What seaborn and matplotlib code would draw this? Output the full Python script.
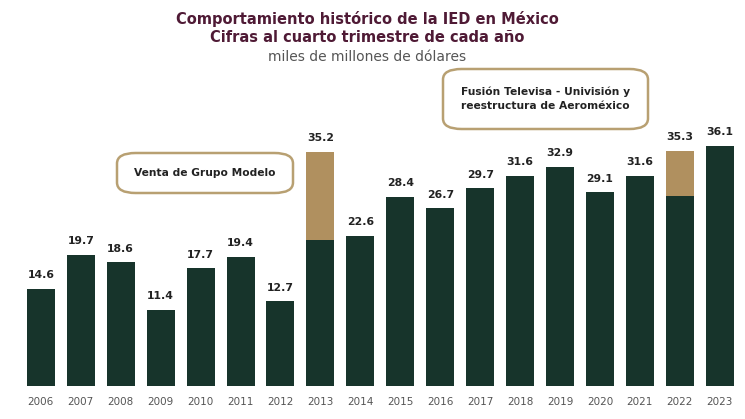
import matplotlib
matplotlib.use("Agg")
import matplotlib.pyplot as plt
import seaborn as sns
import pandas as pd
from matplotlib.patches import FancyBboxPatch

years = ["2006", "2007", "2008", "2009", "2010", "2011", "2012", "2013", "2014",
         "2015", "2016", "2017", "2018", "2019", "2020", "2021", "2022", "2023"]
totals = [14.6, 19.7, 18.6, 11.4, 17.7, 19.4, 12.7, 35.2, 22.6,
          28.4, 26.7, 29.7, 31.6, 32.9, 29.1, 31.6, 35.3, 36.1]
base = [14.6, 19.7, 18.6, 11.4, 17.7, 19.4, 12.7, 22.0, 22.6,
        28.4, 26.7, 29.7, 31.6, 32.9, 29.1, 31.6, 28.5, 36.1]
labels = ["14.6", "19.7", "18.6", "11.4", "17.7", "19.4", "12.7", "35.2", "22.6",
          "28.4", "26.7", "29.7", "31.6", "32.9", "29.1", "31.6", "35.3", "36.1"]

DARK = "#17342b"
GOLD = "#b0905f"

sns.set_theme(style="white")
plt.rcParams["font.family"] = ["DejaVu Sans"]
plt.rcParams["font.stretch"] = "normal"

df = pd.DataFrame({"year": years, "total": totals, "base": base})

fig = plt.figure(figsize=(7.45, 4.19), dpi=100)
ax = fig.add_axes([0.028, 0.079, 0.965, 0.635])

sns.barplot(data=df, x="year", y="total", color=GOLD, saturation=1, width=0.7,
            linewidth=0, ax=ax)
sns.barplot(data=df, x="year", y="base", color=DARK, saturation=1, width=0.7,
            linewidth=0, ax=ax)

for i, (t, lab) in enumerate(zip(totals, labels)):
    ax.text(i, t + 1.3, lab, ha="center", va="bottom", fontsize=7.8,
            fontweight="bold", color="#222222")

ax.set_xlim(-0.5, len(years) - 0.5)
ax.set_ylim(0, 40)
ax.set_xlabel("")
ax.set_ylabel("")
ax.set_yticks([])
ax.tick_params(axis="x", length=0, pad=8, labelsize=7.5, labelcolor="#555555")
for s in ax.spines.values():
    s.set_visible(False)

# Annotation boxes (figure coordinates)
def box(x0, y0, x1, y1, text):
    W, H = 745, 419
    p = FancyBboxPatch((x0 / W, 1 - y1 / H), (x1 - x0) / W, (y1 - y0) / H,
                       boxstyle="round,pad=0,rounding_size=0.025",
                       transform=fig.transFigure, facecolor="white",
                       edgecolor="#b8a072", linewidth=1.8)
    fig.patches.append(p)
    fig.text((x0 + x1) / 2 / W, 1 - (y0 + y1) / 2 / H, text, ha="center",
             va="center", fontsize=7.7, fontweight="bold",
             color="#222222", linespacing=1.45)

box(117, 153, 293, 193, "Venta de Grupo Modelo")
box(443, 69, 648, 129, "Fusión Televisa - Univisión y\nreestructura de Aeroméxico")

fig.text(367 / 745, 1 - 19 / 419, "Comportamiento histórico de la IED en México",
         ha="center", va="center", fontsize=10.5, fontweight="bold", color="#4f1a35")
fig.text(367 / 745, 1 - 38 / 419, "Cifras al cuarto trimestre de cada año",
         ha="center", va="center", fontsize=10.5, fontweight="bold", color="#4f1a35")
fig.text(367 / 745, 1 - 57 / 419, "miles de millones de dólares",
         ha="center", va="center", fontsize=10, color="#555555")

fig.savefig("out.png", dpi=100)
